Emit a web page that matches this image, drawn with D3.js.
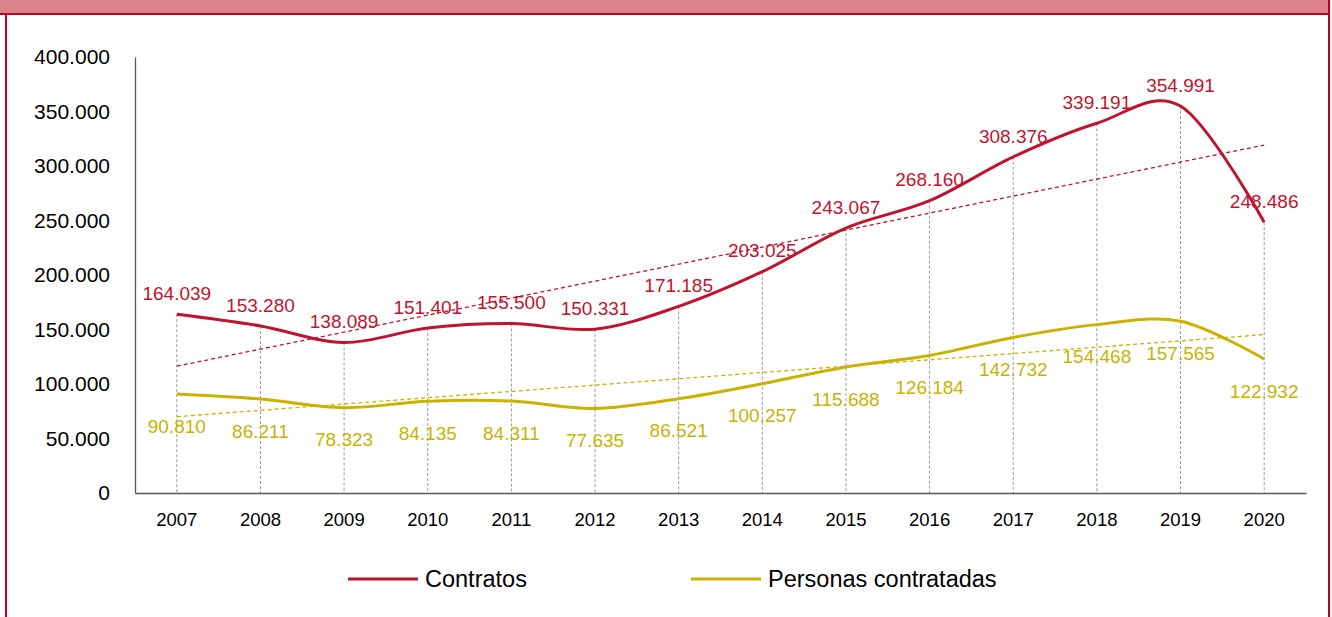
<!DOCTYPE html>
<html>
<head>
<meta charset="utf-8">
<script src="https://cdn.jsdelivr.net/npm/d3@7"></script>
<style>
  body { margin: 0; background: #fff; }
  svg { display: block; font-family: "Liberation Sans", Arial, sans-serif; }
</style>
</head>
<body>
<svg id="chart" width="1332" height="617"></svg>
<script>
// Chart data
const years = ['2007', '2008', '2009', '2010', '2011', '2012', '2013', '2014', '2015', '2016', '2017', '2018', '2019', '2020'];
const contratos = [164039, 153280, 138089, 151401, 155500, 150331, 171185, 203025, 243067, 268160, 308376, 339191, 354991, 248486];
const personas = [90810, 86211, 78323, 84135, 84311, 77635, 86521, 100257, 115688, 126184, 142732, 154468, 157565, 122932];
const yTicks = [0, 50000, 100000, 150000, 200000, 250000, 300000, 350000, 400000];

const series = [
  { name: 'Contratos', values: contratos, color: '#c0142e', labelDy: -21 },
  { name: 'Personas contratadas', values: personas, color: '#c9b300', labelDy: 32 }
];

const svg = d3.select('#chart');
const width = 1332, height = 617;

// Frame: pink header band and red borders
svg.append('rect').attr('x', 0).attr('y', 0).attr('width', 1330).attr('height', 14).attr('fill', '#da838b');
svg.append('line').attr('x1', 0).attr('x2', 1330).attr('y1', 14).attr('y2', 14).attr('stroke', '#c00021').attr('stroke-width', 2);
svg.append('line').attr('x1', 6).attr('x2', 6).attr('y1', 14).attr('y2', height).attr('stroke', '#c00021').attr('stroke-width', 2);
svg.append('line').attr('x1', 1329).attr('x2', 1329).attr('y1', 0).attr('y2', height).attr('stroke', '#c00021').attr('stroke-width', 2);

// Scales
const x = d3.scaleBand().domain(years).range([135, 1306]);
const cx = d => x(d) + x.bandwidth() / 2;
const y = d3.scaleLinear().domain([0, 400000]).range([493, 57]);

const fmt = v => v === 0 ? '0' : d3.format(',')(v).replace(/,/g, '.');

// Y axis
const yAxis = svg.append('g')
  .attr('transform', 'translate(135,0)')
  .call(d3.axisLeft(y).tickValues(yTicks).tickSize(0).tickPadding(25).tickFormat(fmt));
yAxis.select('.domain').attr('stroke', '#595959').attr('stroke-width', 1.3);
yAxis.selectAll('text').attr('font-size', 21).attr('fill', '#000').attr('font-family', '"Liberation Sans", Arial, sans-serif');

// Drop lines from the highest point to the axis
svg.append('g').selectAll('line')
  .data(years)
  .join('line')
  .attr('x1', d => cx(d)).attr('x2', d => cx(d))
  .attr('y1', (d, i) => y(Math.max(contratos[i], personas[i])))
  .attr('y2', y(0))
  .attr('stroke', '#9a9a9a')
  .attr('stroke-width', 1)
  .attr('stroke-dasharray', '3,2');

// X axis
const xAxis = svg.append('g')
  .attr('transform', `translate(0,${y(0)})`)
  .call(d3.axisBottom(x).tickSize(0).tickPadding(20));
xAxis.select('.domain').attr('stroke', '#595959').attr('stroke-width', 1.3);
xAxis.selectAll('text').attr('font-size', 18.5).attr('fill', '#000').attr('font-family', '"Liberation Sans", Arial, sans-serif');

// Linear trend lines
function trend(values) {
  const n = values.length;
  const mx = d3.mean(values, (v, i) => i);
  const my = d3.mean(values);
  const slope = d3.sum(values, (v, i) => (i - mx) * (v - my)) / d3.sum(values, (v, i) => (i - mx) * (i - mx));
  return [[0, my - slope * mx], [n - 1, my + slope * (n - 1 - mx)]];
}

series.forEach(s => {
  const t = trend(s.values);
  svg.append('line')
    .attr('x1', cx(years[t[0][0]])).attr('y1', y(t[0][1]))
    .attr('x2', cx(years[t[1][0]])).attr('y2', y(t[1][1]))
    .attr('stroke', s.color)
    .attr('stroke-width', 1.3)
    .attr('stroke-dasharray', '4,3');
});

// Smoothed series lines
const line = d3.line()
  .x((d, i) => cx(years[i]))
  .y(d => y(d))
  .curve(d3.curveCardinal.tension(0));

series.forEach(s => {
  svg.append('path')
    .attr('d', line(s.values))
    .attr('fill', 'none')
    .attr('stroke', s.color)
    .attr('stroke-width', 3);
});

// Data labels
series.forEach(s => {
  svg.append('g').selectAll('text')
    .data(s.values)
    .join('text')
    .attr('x', (d, i) => cx(years[i]))
    .attr('y', d => y(d) + s.labelDy)
    .attr('dy', '0.35em')
    .attr('text-anchor', 'middle')
    .attr('font-size', 19)
    .attr('fill', s.color)
    .text(fmt);
});

// Legend
const legendX = [348, 691];
series.forEach((s, i) => {
  const g = svg.append('g').attr('transform', `translate(${legendX[i]},579)`);
  g.append('line').attr('x1', 0).attr('x2', 70).attr('y1', 0).attr('y2', 0)
    .attr('stroke', s.color).attr('stroke-width', 3);
  g.append('text').attr('x', 77).attr('y', 0).attr('dy', '0.35em')
    .attr('font-size', 23.5).attr('fill', '#000').text(s.name);
});
</script>
</body>
</html>
